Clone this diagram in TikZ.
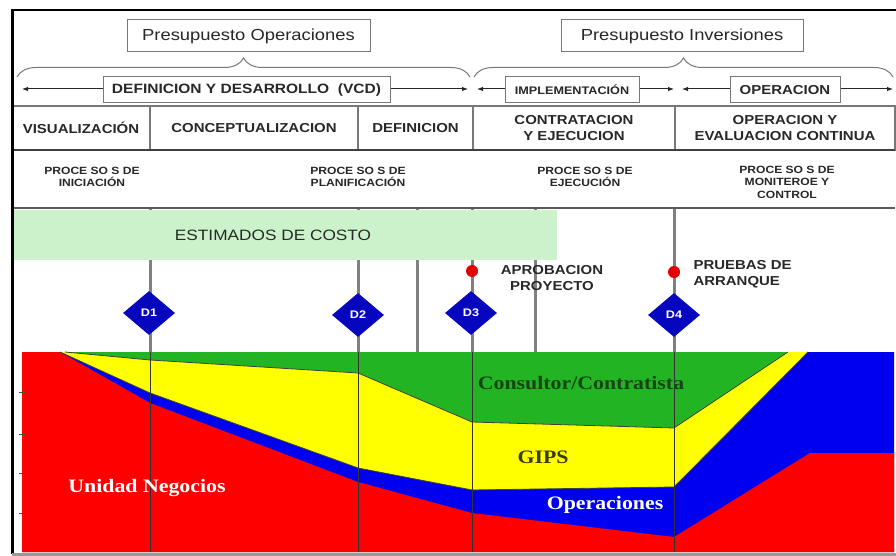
\documentclass[tikz,border=0pt]{standalone}
\usepackage{fontspec}
\setmainfont{Liberation Sans}
\newfontfamily\hsans[FakeStretch=1.15]{Liberation Sans}
\newfontfamily\hserif[FakeStretch=1.15]{Liberation Serif}
\usetikzlibrary{shapes.geometric,arrows.meta,decorations.pathreplacing}
\definecolor{cred}{RGB}{255,0,0}
\definecolor{cblue}{RGB}{0,0,240}
\definecolor{cyellow}{RGB}{255,255,0}
\definecolor{cgreen}{RGB}{34,180,34}
\definecolor{cband}{RGB}{204,242,204}
\definecolor{cdia}{RGB}{6,6,190}
\definecolor{cgrey}{RGB}{128,128,128}
\definecolor{cbox}{RGB}{120,120,120}
\definecolor{ctext}{RGB}{40,40,40}
\definecolor{cdkgreen}{RGB}{20,70,20}
\definecolor{colive}{RGB}{60,60,0}
\begin{document}
\begin{tikzpicture}[x=1pt,y=-1pt,
  topbox/.style={draw=cbox, line width=1pt, fill=white, inner sep=0pt, text=ctext},
  cell/.style={draw=cbox, line width=1.2pt, inner sep=0pt, minimum height=44pt, align=center, text=ctext,
    font=\hsans\bfseries\fontsize{13}{16}\selectfont},
  proc/.style={align=center, text=ctext, font=\hsans\bfseries\fontsize{10.5}{12.5}\selectfont},
  vline/.style={draw=cgrey, line width=3pt},
  cline/.style={draw=black!80, line width=0.8pt},
  dia/.style={diamond, fill=cdia, inner sep=0pt, minimum width=52pt, minimum height=44pt,
    text=white, font=\hsans\bfseries\fontsize{11}{13}\selectfont},
  rdot/.style={circle, fill=cred!90!black, inner sep=0pt, minimum size=12pt},
  biglab/.style={font=\hserif\bfseries\fontsize{19}{22}\selectfont},
  milestone/.style={text=ctext, font=\hsans\bfseries\fontsize{13}{16}\selectfont},
  harrow/.style={draw=black!85, line width=1pt, {Latex[length=6pt,width=4.5pt]}-{Latex[length=6pt,width=4.5pt]}},
  brc/.style={draw=cbox, line width=1pt, decorate, decoration={brace, amplitude=19pt}}
]
\useasboundingbox (0,0) rectangle (896,556);
\fill[white] (0,0) rectangle (896,556);

% ---------- chart regions ----------
\fill[cgreen] (22,352) rectangle (894,552);
\fill[cyellow] (65,352) -- (150,360) -- (358,373) -- (472,422) -- (674,428) -- (788,352)
  -- (894,352) -- (894,552) -- (22,552) -- (22,352) -- cycle;
\fill[cblue] (60,352) -- (150,393) -- (358,468) -- (472,490) -- (674,487) -- (808,352)
  -- (894,352) -- (894,552) -- (22,552) -- (22,352) -- cycle;
\fill[cred] (22,352) -- (60,352) -- (150,403) -- (358,482) -- (472,513) -- (674,537) -- (810,453)
  -- (894,453) -- (894,552) -- (22,552) -- cycle;
\draw[black!75, line width=0.8pt] (65,352) -- (150,360) -- (358,373) -- (472,422) -- (674,428) -- (788,352);
\draw[black!75, line width=0.8pt] (60,352) -- (150,393) -- (358,468) -- (472,490) -- (674,487) -- (808,352);
% axis ticks
\foreach \ty in {392,434,473,513} \draw[black!70, line width=1pt] (19,\ty) -- (25,\ty);

% chart vertical lines
\coordinate (c1t) at (150,352); \coordinate (c1b) at (150,552);
\coordinate (c2t) at (358,352); \coordinate (c2b) at (358,552);
\coordinate (c3t) at (472,352); \coordinate (c3b) at (472,552);
\coordinate (c4t) at (674,352); \coordinate (c4b) at (674,552);
\draw[cline] (c1t) -- (c1b);
\draw[cline] (c2t) -- (c2b);
\draw[cline] (c3t) -- (c3b);
\draw[cline] (c4t) -- (c4b);

% chart labels
\node[biglab, text=cdkgreen] (lcons) at (581,383) {Consultor/Contratista};
\node[biglab, text=colive] (lgips) at (543,457) {GIPS};
\node[biglab, text=white] (loper) at (605,505) {Operaciones};
\node[biglab, text=white] (lunid) at (147,488) {Unidad Negocios};

% ---------- milestone lines ----------
\coordinate (v1t) at (150,208); \coordinate (v1b) at (150,352);
\coordinate (v2t) at (358,208); \coordinate (v2b) at (358,352);
\coordinate (v5t) at (417,208); \coordinate (v5b) at (417,352);
\coordinate (v3t) at (472,208); \coordinate (v3b) at (472,352);
\coordinate (v6t) at (535,208); \coordinate (v6b) at (535,352);
\coordinate (v4t) at (674,208); \coordinate (v4b) at (674,352);
\draw[vline] (v1t) -- (v1b);
\draw[vline] (v2t) -- (v2b);
\draw[vline] (v5t) -- (v5b);
\draw[vline] (v3t) -- (v3b);
\draw[vline] (v6t) -- (v6b);
\draw[vline] (v4t) -- (v4b);

% cost band
\fill[cband] (14,210) rectangle (557,260);
\node[text=ctext, font=\hsans\fontsize{15}{18}\selectfont] (est) at (273,235) {ESTIMADOS DE COSTO};

% diamonds and dots
\node[dia] (d1) at (149,313) {D1};
\node[dia] (d2) at (358,315) {D2};
\node[dia] (d3) at (471,313) {D3};
\node[dia] (d4) at (674,315) {D4};
\node[rdot] (r3) at (472,271) {};
\node[rdot] (r4) at (674,272) {};
\node[milestone, align=center] (aprob) at (552,278) {APROBACION\\PROYECTO};
\node[milestone, align=left, anchor=west] (prueb) at (690,274) {PRUEBAS DE\\ARRANQUE};

% ---------- header ----------
\node[topbox, minimum width=243pt, minimum height=32pt, font=\hsans\fontsize{16}{19}\selectfont] (po) at (248.5,36) {Presupuesto Operaciones};
\node[topbox, minimum width=242pt, minimum height=32pt, font=\hsans\fontsize{16}{19}\selectfont] (pi) at (682,36) {Presupuesto Inversiones};
\coordinate (b1l) at (17,77); \coordinate (b1r) at (470,77);
\coordinate (b2l) at (474,77); \coordinate (b2r) at (893,77);
\draw[brc] (b1l) -- (b1r);
\draw[brc] (b2l) -- (b2r);

\coordinate (a1l) at (22,89); \coordinate (a1r) at (468,89);
\coordinate (a2l) at (477,89); \coordinate (a2r) at (674,89);
\coordinate (a3l) at (682,89); \coordinate (a3r) at (893,89);
\draw[harrow] (a1l) -- (a1r);
\draw[harrow] (a2l) -- (a2r);
\draw[harrow] (a3l) -- (a3r);
\node[topbox, minimum width=287pt, minimum height=26pt, font=\hsans\bfseries\fontsize{13.5}{16}\selectfont] (vcd) at (246.5,90) {DEFINICION Y DESARROLLO\ \ (VCD)};
\node[topbox, minimum width=134pt, minimum height=26pt, font=\hsans\bfseries\fontsize{11}{13}\selectfont] (impl) at (572,90) {IMPLEMENTACIÓN};
\node[topbox, minimum width=110pt, minimum height=26pt, font=\hsans\bfseries\fontsize{13}{16}\selectfont] (oper) at (785,90) {OPERACION};

% phase cells
\node[cell, minimum width=138pt] (vis) at (81,128) {VISUALIZACIÓN};
\node[cell, minimum width=208pt] (con) at (254,128) {CONCEPTUALIZACION};
\node[cell, minimum width=115pt] (def) at (415.5,128) {DEFINICION};
\node[cell, minimum width=202pt] (cye) at (574,128) {CONTRATACION\\Y EJECUCION};
\node[cell, minimum width=220pt] (oye) at (785,128) {OPERACION Y\\EVALUACION CONTINUA};
\coordinate (h1l) at (12,150); \coordinate (h1r) at (895,150);
\coordinate (h2l) at (12,208); \coordinate (h2r) at (895,208);
\draw[black!75, line width=1.6pt] (h1l) -- (h1r);
\draw[black!65, line width=1.6pt] (h2l) -- (h2r);

% process labels
\node[proc] (p1) at (92,177) {PROCE SO S DE\\INICIACIÓN};
\node[proc] (p2) at (358,177) {PROCE SO S DE\\PLANIFICACIÓN};
\node[proc] (p3) at (585,177) {PROCE SO S DE\\EJECUCIÓN};
\node[proc] (p4) at (787,182) {PROCE SO S DE\\MONITEROE Y\\CONTROL};

% ---------- frame ----------
\draw[black, line width=2pt] (12,10) -- (896,10);
\draw[black, line width=3pt] (12.5,9) -- (12.5,554);
\draw[black!40, line width=3pt] (12,554) -- (896,554);
\end{tikzpicture}
\end{document}
